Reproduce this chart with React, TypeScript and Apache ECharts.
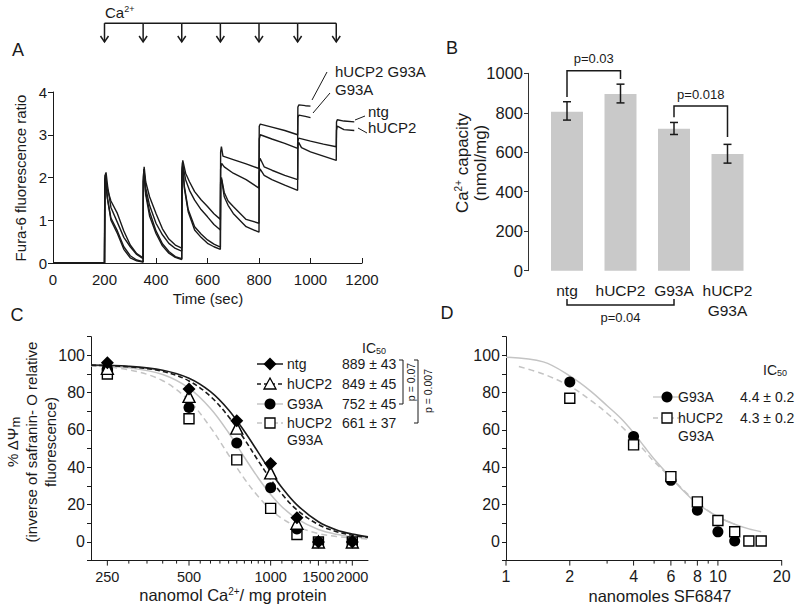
import React, { useEffect, useRef } from 'react';
import * as echarts from 'echarts';

const FONT = '"Liberation Sans", Arial, Helvetica, sans-serif';
const INK = '#1a1a1a';
const GRAY = '#c4c4c4';
const BAR = '#c9c9c9';

// ---------------- Panel A : Fura-6 traces ----------------
const aInjections = [200, 350, 500, 650, 800, 950, 1100];
const aArrowTop = 5.61;
const aArrowTip = 5.17;
const aHucp2G93a = [
  [0, 0], [200, 0], [201, 1.9], [204, 2.0], [210, 1.75], [225, 1.45], [250, 1.16], [275, 0.75], [300, 0.42], [325, 0.22], [350, 0.12],
  [351, 2.0], [354, 2.25], [360, 1.9], [375, 1.55], [400, 1.16], [425, 0.8], [450, 0.56], [475, 0.42], [500, 0.35],
  [501, 2.2], [504, 2.4], [515, 2.1], [530, 1.9], [550, 1.67], [575, 1.48], [600, 1.32], [625, 1.15], [650, 1.02],
  [651, 2.6], [654, 2.72], [660, 2.5], [700, 2.42], [750, 2.32], [800, 2.21],
  [801, 3.2], [805, 3.25], [850, 3.18], [900, 3.1], [950, 3.0],
  [951, 3.65], [955, 3.7], [980, 3.68], [1000, 3.67],
];
const aG93a = [
  [0, 0], [200, 0], [202, 2.05], [206, 2.12], [212, 1.8], [225, 1.3], [250, 0.95], [275, 0.6], [300, 0.38], [325, 0.2], [350, 0.1],
  [351, 1.9], [354, 2.15], [360, 1.75], [375, 1.35], [400, 0.93], [425, 0.66], [450, 0.46], [475, 0.34], [500, 0.28],
  [501, 2.1], [504, 2.3], [515, 1.95], [530, 1.7], [550, 1.47], [575, 1.25], [600, 1.08], [625, 0.9], [650, 0.77],
  [651, 2.2], [655, 2.33], [665, 2.25], [700, 2.1], [750, 1.95], [800, 1.75],
  [801, 2.9], [805, 3.0], [850, 2.9], [900, 2.8], [950, 2.68],
  [951, 3.4], [955, 3.46], [980, 3.43], [1000, 3.4],
];
const aNtg = [
  [0, 0], [200, 0], [201, 1.95], [203, 2.05], [210, 1.55], [225, 1.0], [250, 0.69], [275, 0.32], [300, 0.12], [325, 0.05], [350, 0.02],
  [351, 2.0], [353, 2.2], [360, 1.6], [375, 1.1], [400, 0.69], [425, 0.4], [450, 0.23], [475, 0.13], [500, 0.08],
  [501, 2.1], [503, 2.35], [510, 1.8], [525, 1.25], [550, 0.85], [575, 0.68], [600, 0.54], [625, 0.44], [650, 0.37],
  [651, 1.9], [654, 2.0], [665, 1.65], [680, 1.45], [700, 1.32], [750, 1.02], [800, 0.93],
  [801, 2.35], [804, 2.45], [820, 2.25], [850, 2.17], [900, 2.05], [950, 1.95],
  [951, 2.85], [954, 2.92], [1000, 2.85], [1050, 2.78], [1100, 2.72],
  [1101, 3.3], [1104, 3.35], [1130, 3.32], [1170, 3.3],
];
const aHucp2 = [
  [0, 0], [200, 0], [202, 1.9], [205, 1.98], [212, 1.5], [225, 1.05], [250, 0.75], [275, 0.38], [300, 0.17], [325, 0.07], [350, 0.03],
  [351, 1.9], [354, 2.1], [360, 1.65], [375, 1.2], [400, 0.75], [425, 0.45], [450, 0.27], [475, 0.15], [500, 0.1],
  [501, 2.0], [504, 2.25], [510, 1.75], [525, 1.2], [550, 0.77], [575, 0.6], [600, 0.46], [625, 0.38], [650, 0.32],
  [651, 1.85], [655, 1.95], [665, 1.55], [680, 1.35], [700, 1.16], [750, 0.85], [800, 0.72],
  [801, 2.1], [804, 2.2], [820, 2.05], [850, 1.95], [900, 1.82], [950, 1.7],
  [951, 2.75], [954, 2.82], [965, 2.7], [1000, 2.6], [1050, 2.5], [1100, 2.4],
  [1101, 3.1], [1104, 3.2], [1130, 3.12], [1170, 3.1],
];

// ---------------- Panel B : Ca2+ capacity ----------------
const bCategories = ['ntg', 'hUCP2', 'G93A', 'hUCP2\nG93A'];
const bValues = [805, 895, 719, 591];
const bErrLow = [763, 850, 690, 545];
const bErrHigh = [856, 945, 751, 640];
const bBracketLeft = [0, 2, 0];
const bBracketRight = [1, 3, 2];
const bBracketLeftEnd = [880, 777, -143];
const bBracketRightEnd = [971, 677, -143];
const bBracketLevel = [1013, 834, -174];
const bBracketLabels = ['p=0.03', 'p=0.018', 'p=0.04'];

// ---------------- Panel C : safranin-O vs Ca2+ ----------------
const cXRange = [217.6, 2285];
const cDoses = [250, 500, 750, 1000, 1250, 1500, 2000];
const cNtg = [96, 82, 65, 42, 13, 0, 0];
const cHucp2 = [93, 78, 61, 37, 10, 0, 0];
const cG93a = [93, 72, 53, 29, 7, 0, 0];
const cHucp2G93a = [90, 66, 44, 18, 4, 0, 0];
const cFitX = [218, 300, 400, 500, 600, 700, 800, 900, 1000, 1100, 1250, 1500, 1750, 2000, 2285];
const cFitNtg = [94.8, 94.1, 92.0, 87.7, 80.5, 70.7, 59.3, 48, 37.7, 29.2, 19.9, 10.8, 6.4, 4.2, 2.8];
const cFitHucp2 = [94.7, 93.9, 91.4, 86.3, 78.0, 67.1, 55.1, 43.5, 33.6, 25.7, 17.2, 9.3, 5.5, 3.6, 2.5];
const cFitG93a = [94.6, 93.3, 89.7, 82.4, 71.5, 58.5, 45.4, 34.3, 25.4, 18.9, 12.4, 6.7, 4.1, 2.8, 2.0];
const cFitHucp2G93a = [94.3, 92.3, 86.4, 75.7, 61.4, 46.6, 33.9, 24.3, 17.3, 12.6, 8.2, 4.5, 2.9, 2.1, 1.6];
const cTicksLabeled = [250, 500, 1000, 1500, 2000];
const cTicksMinor = [300, 350, 400, 450, 550, 600, 650, 700, 750, 800, 850, 900, 950, 1100, 1200, 1300, 1400, 1600, 1700, 1800, 1900];
const cLegendNames = ['ntg', 'hUCP2', 'G93A', 'hUCP2\nG93A'];
const cLegendIC50 = ['889 ± 43', '849 ± 45', '752 ± 45', '661 ± 37'];

// ---------------- Panel D : safranin-O vs SF6847 ----------------
const dXRange = [1, 20];
const dG93aDoses = [2, 4, 6, 8, 10, 12];
const dG93a = [85.7, 56.5, 33, 17, 5.4, 0.5];
const dHucp2G93aDoses = [2, 4, 6, 8, 10, 12, 14, 16];
const dHucp2G93a = [77, 52, 35, 21.5, 11.5, 5.5, 0.5, 0.5];
const dFitG93aX = [1, 1.5, 2, 2.5, 3, 3.5, 4, 4.5, 5, 6, 7, 8, 10, 12, 14, 16];
const dFitG93a = [99, 96.5, 89, 81, 73, 66, 58.5, 51, 44.5, 34.5, 26.5, 20.5, 13.5, 9.5, 7, 5.5];
const dFitHX = [1.15, 1.5, 2, 2.5, 3, 3.5, 4, 4.5, 5, 6, 7, 8, 10, 12];
const dFitHucp2G93a = [94, 90, 83.5, 76, 69, 62, 55.5, 49, 43, 34.5, 27, 21, 13.5, 9.5];
const dTicksLabeled = [1, 2, 4, 6, 8, 10, 20];
const dTicksMinor = [3, 5, 7, 9];
const dLegendNames = ['G93A', 'hUCP2\nG93A'];
const dLegendIC50 = ['4.4 ± 0.2', '4.3 ± 0.2'];

const lg = (v: number) => Math.log10(v);

function txt(x: number, y: number, text: string, size: number, opts: any = {}) {
  const align = opts.align || 'left';
  const va = opts.va || 'middle';
  return {
    type: 'text', x, y, rotation: opts.rotation || 0, silent: true,
    style: {
      text, fill: INK, font: `${size}px ${FONT}`, fontSize: size, fontFamily: FONT,
      align, textAlign: align, verticalAlign: va, textVerticalAlign: va,
      lineHeight: opts.lineHeight, rich: opts.rich,
    },
  };
}
function seg(x1: number, y1: number, x2: number, y2: number, w = 1, color = INK, dash?: number[]) {
  return { type: 'line', silent: true, shape: { x1, y1, x2, y2 }, style: { stroke: color, lineWidth: w, lineDash: dash } };
}

const supRich = (size: number) => ({
  sup: { fontSize: size, fontFamily: FONT, fill: INK, verticalAlign: 'top', padding: [0, 0, 6, 0] },
  sub: { fontSize: size, fontFamily: FONT, fill: INK, verticalAlign: 'bottom', padding: [6, 0, 0, 0] },
});

function logTicks(axisIdx: number, labeled: number[], minor: number[], yBase: number, fontSize: number) {
  const all = labeled.concat(minor);
  return {
    type: 'custom', xAxisIndex: axisIdx, yAxisIndex: axisIdx, silent: true, z: 5, clip: false,
    data: all.map((v) => [lg(v), yBase]),
    renderItem: (params: any, api: any) => {
      const v = all[params.dataIndex];
      const p = api.coord([api.value(0), api.value(1)]);
      const major = params.dataIndex < labeled.length;
      const children: any[] = [
        { type: 'line', shape: { x1: p[0], y1: p[1], x2: p[0], y2: p[1] + (major ? 5 : 3) }, style: { stroke: INK, lineWidth: 1 } },
      ];
      if (major) {
        children.push({
          type: 'text',
          style: { text: String(v), x: p[0], y: p[1] + 16, fill: INK, font: `${fontSize}px ${FONT}`, align: 'center', textAlign: 'center', verticalAlign: 'middle', textVerticalAlign: 'middle' },
        });
      }
      return { type: 'group', children };
    },
  };
}

export default function App() {
  const ref = useRef<HTMLDivElement>(null);
  useEffect(() => {
    if (!ref.current) return;
    const chart = echarts.init(ref.current, undefined, { renderer: 'svg' });

    const axisLineStyle = { lineStyle: { color: INK, width: 1 } };
    const plain = (v: number) => String(v);
    const pctAxis = (gridIndex: number) => ({
      type: 'value', gridIndex, min: -10, max: 110, interval: 10,
      axisLine: { show: true, ...axisLineStyle },
      axisTick: { show: true, length: 4, lineStyle: { color: INK } },
      splitLine: { show: false },
      axisLabel: {
        color: INK, fontSize: 16, fontFamily: FONT, margin: 6,
        formatter: (v: number) => (v >= 0 && v <= 100 && v % 20 === 0 ? String(v) : ''),
      },
    });

    const cLine = (xs: number[], ys: number[], color: string, dash: any, w = 1.6) => ({
      type: 'line', xAxisIndex: 2, yAxisIndex: 2, data: xs.map((x, i) => [lg(x), ys[i]]),
      showSymbol: false, symbol: 'none', smooth: 0.35, z: 2, silent: true,
      lineStyle: { color, width: w, type: dash },
    });
    const dLine = (xs: number[], ys: number[], color: string, dash: any) => ({
      type: 'line', xAxisIndex: 3, yAxisIndex: 3, data: xs.map((x, i) => [lg(x), ys[i]]),
      showSymbol: false, symbol: 'none', smooth: 0.35, z: 2, silent: true,
      lineStyle: { color, width: 1.5, type: dash },
    });
    const scat = (axis: number, xs: number[], ys: number[], symbol: string, size: number, filled: boolean) => ({
      type: 'scatter', xAxisIndex: axis, yAxisIndex: axis, data: xs.map((x, i) => [lg(x), ys[i]]),
      symbol, symbolSize: size, z: 4, silent: true,
      itemStyle: filled ? { color: '#000', opacity: 1 } : { color: '#fff', borderColor: '#000', borderWidth: 1.4, opacity: 1 },
    });
    const aLine = (data: number[][]) => ({
      type: 'line', xAxisIndex: 0, yAxisIndex: 0, data, showSymbol: false, symbol: 'none', silent: true,
      lineStyle: { color: INK, width: 1.4 },
    });

    // legend graphics for panel C
    const cRows = [364, 384, 404, 423];
    const cLegend: any[] = [];
    const cLegStyles = [
      { color: INK, dash: undefined },
      { color: INK, dash: [4, 3] },
      { color: GRAY, dash: undefined },
      { color: GRAY, dash: [5, 3] },
    ];
    cRows.forEach((y, i) => {
      cLegend.push(seg(257, y, 283, y, 1.5, cLegStyles[i].color, cLegStyles[i].dash));
      const name = cLegendNames[i];
      if (name.includes('\n')) {
        cLegend.push(txt(287, y - 9, name, 14, { va: 'top', lineHeight: 17 }));
      } else {
        cLegend.push(txt(287, y, name, 14));
      }
      cLegend.push(txt(342, y, cLegendIC50[i], 14));
    });
    cLegend.push({ type: 'polygon', silent: true, shape: { points: [[270, 357.5], [276.5, 364], [270, 370.5], [263.5, 364]] }, style: { fill: '#000' } });
    cLegend.push({ type: 'polygon', silent: true, shape: { points: [[270, 378], [276, 389], [264, 389]] }, style: { fill: '#fff', stroke: '#000', lineWidth: 1.3 } });
    cLegend.push({ type: 'circle', silent: true, shape: { cx: 270, cy: 404, r: 5.5 }, style: { fill: '#000' } });
    cLegend.push({ type: 'rect', silent: true, shape: { x: 265, y: 418, width: 10, height: 10 }, style: { fill: '#fff', stroke: '#000', lineWidth: 1.3 } });

    // legend graphics for panel D
    const dRows = [397, 418];
    const dLegend: any[] = [];
    dRows.forEach((y, i) => {
      dLegend.push(seg(653, y, 681, y, 1.3, GRAY, i === 1 ? [5, 3] : undefined));
      const name = dLegendNames[i];
      if (name.includes('\n')) dLegend.push(txt(678, y - 9, name, 14, { va: 'top', lineHeight: 18 }));
      else dLegend.push(txt(678, y, name, 14));
      dLegend.push(txt(740, y, dLegendIC50[i], 14));
    });
    dLegend.push({ type: 'circle', silent: true, shape: { cx: 667, cy: 397, r: 5.5 }, style: { fill: '#000' } });
    dLegend.push({ type: 'rect', silent: true, shape: { x: 662, y: 413, width: 10, height: 10 }, style: { fill: '#fff', stroke: '#000', lineWidth: 1.3 } });

    const option: any = {
      animation: false,
      backgroundColor: '#fff',
      textStyle: { fontFamily: FONT, color: INK },
      grid: [
        { left: 53, top: 92, width: 309, height: 171 },
        { left: 540.25, top: 73.3, width: 214, height: 197.4 },
        { left: 91, top: 336.7, width: 277, height: 223.9 },
        { left: 506, top: 336.7, width: 275.7, height: 223.9 },
      ],
      xAxis: [
        {
          type: 'value', gridIndex: 0, min: 0, max: 1200, interval: 200,
          axisLine: { show: true, ...axisLineStyle },
          axisTick: { show: true, inside: true, length: 5, lineStyle: { color: INK } },
          splitLine: { show: false },
          axisLabel: { color: INK, fontSize: 15, fontFamily: FONT, margin: 9, formatter: plain },
        },
        {
          type: 'category', gridIndex: 1, data: bCategories,
          axisLine: { show: false }, axisTick: { show: false },
          axisLabel: { color: INK, fontSize: 15.5, fontFamily: FONT, margin: 10, interval: 0, lineHeight: 20 },
        },
        {
          type: 'value', gridIndex: 2, min: lg(cXRange[0]), max: lg(cXRange[1]),
          axisLine: { show: true, onZero: false, ...axisLineStyle },
          axisTick: { show: false }, axisLabel: { show: false }, splitLine: { show: false },
        },
        {
          type: 'value', gridIndex: 3, min: lg(dXRange[0]), max: lg(dXRange[1]),
          axisLine: { show: true, onZero: false, ...axisLineStyle },
          axisTick: { show: false }, axisLabel: { show: false }, splitLine: { show: false },
        },
      ],
      yAxis: [
        {
          type: 'value', gridIndex: 0, min: 0, max: 4, interval: 1,
          axisLine: { show: true, ...axisLineStyle },
          axisTick: { show: true, length: 5, lineStyle: { color: INK } },
          splitLine: { show: false },
          axisLabel: { color: INK, fontSize: 15, fontFamily: FONT, margin: 6, formatter: plain },
        },
        {
          type: 'value', gridIndex: 1, min: 0, max: 1000, interval: 200, offset: 12.25,
          axisLine: { show: true, lineStyle: { color: '#333', width: 1 } },
          axisTick: { show: true, length: 4, lineStyle: { color: '#333' } },
          splitLine: { show: false },
          axisLabel: { color: INK, fontSize: 16.5, fontFamily: FONT, margin: 5, formatter: plain },
        },
        pctAxis(2),
        pctAxis(3),
      ],
      series: [
        // Panel A
        aLine(aNtg), aLine(aHucp2), aLine(aG93a), aLine(aHucp2G93a),
        {
          type: 'custom', xAxisIndex: 0, yAxisIndex: 0, silent: true, clip: false,
          data: aInjections.map((t, i) => [t, i < aInjections.length - 1 ? aInjections[i + 1] : t]),
          renderItem: (params: any, api: any) => {
            const t = api.value(0);
            const tn = api.value(1);
            const top = api.coord([t, aArrowTop]);
            const tip = api.coord([t, aArrowTip]);
            const children: any[] = [
              { type: 'line', shape: { x1: top[0], y1: top[1], x2: tip[0], y2: tip[1] }, style: { stroke: INK, lineWidth: 1.5 } },
              { type: 'polyline', shape: { points: [[tip[0] - 4, tip[1] - 6], [tip[0], tip[1]], [tip[0] + 4, tip[1] - 6]] }, style: { stroke: INK, lineWidth: 1.5, fill: 'none' } },
            ];
            if (tn > t) {
              const nx = api.coord([tn, aArrowTop]);
              children.push({ type: 'line', shape: { x1: top[0], y1: top[1], x2: nx[0], y2: nx[1] }, style: { stroke: INK, lineWidth: 1.5 } });
            }
            return { type: 'group', children };
          },
        },
        // Panel B
        {
          type: 'bar', xAxisIndex: 1, yAxisIndex: 1, data: bValues, barWidth: 32, silent: true,
          itemStyle: { color: BAR },
        },
        {
          type: 'custom', xAxisIndex: 1, yAxisIndex: 1, silent: true, z: 5,
          data: bValues.map((_, i) => [i, bErrLow[i], bErrHigh[i]]),
          renderItem: (params: any, api: any) => {
            const lo = api.coord([api.value(0), api.value(1)]);
            const hi = api.coord([api.value(0), api.value(2)]);
            const c = 4;
            const st = { stroke: INK, lineWidth: 1.5 };
            return {
              type: 'group', children: [
                { type: 'line', shape: { x1: lo[0], y1: lo[1], x2: hi[0], y2: hi[1] }, style: st },
                { type: 'line', shape: { x1: lo[0] - c, y1: lo[1], x2: lo[0] + c, y2: lo[1] }, style: st },
                { type: 'line', shape: { x1: hi[0] - c, y1: hi[1], x2: hi[0] + c, y2: hi[1] }, style: st },
              ],
            };
          },
        },
        {
          type: 'custom', xAxisIndex: 1, yAxisIndex: 1, silent: true, z: 5, clip: false,
          data: bBracketLeft.map((l, i) => [l, bBracketRight[i], bBracketLeftEnd[i], bBracketRightEnd[i], bBracketLevel[i]]),
          renderItem: (params: any, api: any) => {
            const l = api.value(0), r = api.value(1);
            const le = api.coord([l, api.value(2)]);
            const re = api.coord([r, api.value(3)]);
            const lt = api.coord([l, api.value(4)]);
            const rt = api.coord([r, api.value(4)]);
            const below = api.value(4) < 0;
            const st = { stroke: INK, lineWidth: 1.5, fill: 'none' };
            return {
              type: 'group', children: [
                { type: 'polyline', shape: { points: [le, lt, rt, re] }, style: st },
                {
                  type: 'text',
                  style: {
                    text: bBracketLabels[params.dataIndex], x: (lt[0] + rt[0]) / 2, y: lt[1] + (below ? 12 : -12),
                    fill: INK, font: `13px ${FONT}`, align: 'center', textAlign: 'center', verticalAlign: 'middle', textVerticalAlign: 'middle',
                  },
                },
              ],
            };
          },
        },
        // Panel C
        cLine(cFitX, cFitHucp2G93a, GRAY, [6, 4], 1.5),
        cLine(cFitX, cFitG93a, GRAY, 'solid', 1.5),
        cLine(cFitX, cFitHucp2, INK, [5, 3]),
        cLine(cFitX, cFitNtg, INK, 'solid'),
        scat(2, cDoses, cHucp2G93a, 'rect', 10, false),
        scat(2, cDoses, cG93a, 'circle', 11, true),
        scat(2, cDoses, cHucp2, 'triangle', 12, false),
        scat(2, cDoses, cNtg, 'diamond', 13, true),
        logTicks(2, cTicksLabeled, cTicksMinor, -10, 14.5),
        // Panel D
        dLine(dFitHX, dFitHucp2G93a, GRAY, [6, 4]),
        dLine(dFitG93aX, dFitG93a, GRAY, 'solid'),
        scat(3, dG93aDoses, dG93a, 'circle', 11, true),
        scat(3, dHucp2G93aDoses, dHucp2G93a, 'rect', 10, false),
        logTicks(3, dTicksLabeled, dTicksMinor, -10, 16),
      ],
      graphic: {
        elements: [
          // panel letters
          txt(18, 50, 'A', 18, { align: 'center' }),
          txt(452, 48, 'B', 18, { align: 'center' }),
          txt(17, 315, 'C', 18, { align: 'center' }),
          txt(447, 313, 'D', 18, { align: 'center' }),
          // Panel A annotations
          txt(105, 12, 'Ca{sup|2+}', 15, { rich: supRich(9) }),
          txt(20, 178, 'Fura-6 fluorescence ratio', 15, { align: 'center', rotation: Math.PI / 2 }),
          txt(208, 298, 'Time (sec)', 15, { align: 'center' }),
          txt(335, 71, 'hUCP2 G93A', 15),
          txt(335, 89, 'G93A', 15),
          txt(368, 111, 'ntg', 15),
          txt(368, 127, 'hUCP2', 15),
          seg(312, 100, 327, 72),
          seg(313, 113, 330, 93),
          seg(355, 120, 365, 116),
          seg(358, 128, 367, 133),
          // Panel B
          txt(471, 163, 'Ca{sup|2+} capacity\n(nmol/mg)', 17, { align: 'center', rotation: Math.PI / 2, lineHeight: 18, rich: supRich(10) }),
          // Panel C
          txt(31, 442, '% ΔΨ{sub|m}\n(inverse of safranin- O relative\nfluorescence)', 15, { align: 'center', rotation: Math.PI / 2, lineHeight: 19, rich: supRich(13) }),
          txt(233, 595, 'nanomol Ca{sup|2+}/ mg protein', 16.5, { align: 'center', rich: supRich(10) }),
          txt(362, 348, 'IC{sub|50}', 14, { rich: supRich(9) }),
          ...cLegend,
          seg(403, 360, 403, 404), seg(399, 360, 403, 360), seg(399, 404, 403, 404),
          seg(418, 360, 418, 423), seg(414, 360, 418, 360), seg(414, 423, 418, 423),
          txt(411, 382, 'p = 0.07', 10.5, { align: 'center', rotation: Math.PI / 2 }),
          txt(428, 391, 'p = 0.007', 10.5, { align: 'center', rotation: Math.PI / 2 }),
          // Panel D
          txt(660, 596, 'nanomoles SF6847', 16.5, { align: 'center' }),
          txt(763, 370, 'IC{sub|50}', 14, { rich: supRich(9) }),
          ...dLegend,
        ],
      },
    };
    chart.setOption(option);
    return () => chart.dispose();
  }, []);
  return <div ref={ref} style={{ position: 'absolute', left: 0, top: 0, width: 800, height: 611, background: '#fff' }} />;
}
